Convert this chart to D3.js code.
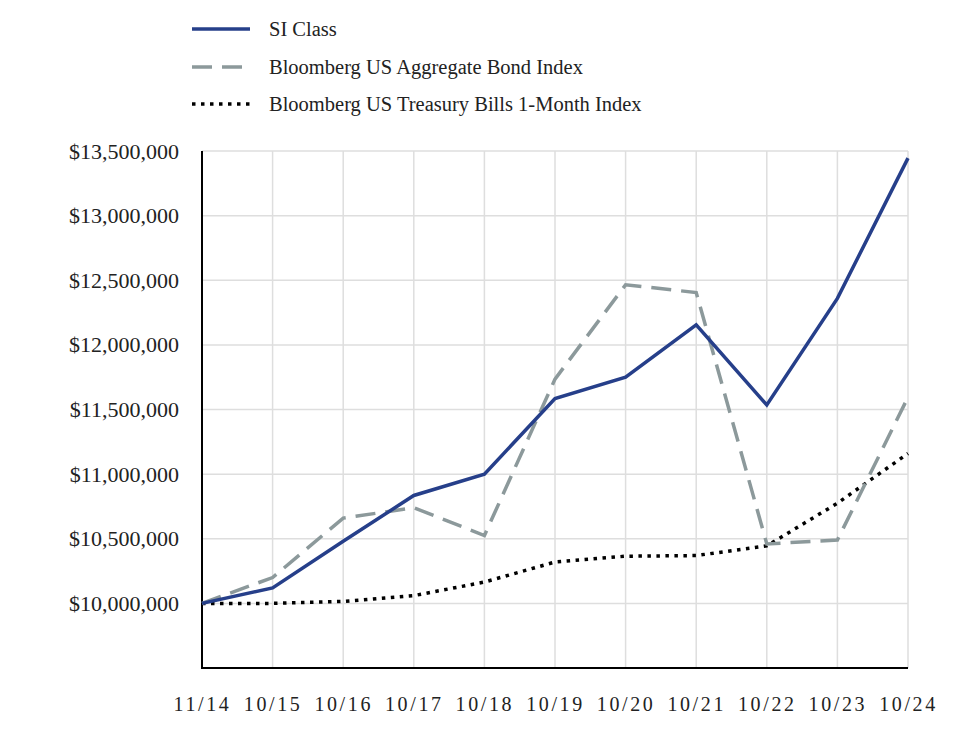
<!DOCTYPE html>
<html><head><meta charset="utf-8">
<script src="https://cdn.jsdelivr.net/npm/d3@7/dist/d3.min.js"></script>
<style>body{margin:0;background:#fff}svg{display:block}</style>
</head><body>
<svg id="c" width="964" height="740"></svg>
<script>
const categories = ["11/14","10/15","10/16","10/17","10/18","10/19","10/20","10/21","10/22","10/23","10/24"];
const siClass = [10000000,10120000,10480000,10835000,11000000,11585000,11750000,12155000,11535000,12360000,13445000];
const aggBond = [10000000,10200000,10660000,10740000,10525000,11735000,12465000,12405000,10460000,10490000,11595000];
const tBills  = [10000000,10000000,10015000,10060000,10165000,10320000,10365000,10370000,10445000,10775000,11160000];
const yTicks = [10000000,10500000,11000000,11500000,12000000,12500000,13000000,13500000];
const seriesNames = ["SI Class","Bloomberg US Aggregate Bond Index","Bloomberg US Treasury Bills 1-Month Index"];

(function(){
const svg = d3.select("#c");
const mLeft = 202, mRight = 908, mTop = 151, mBottom = 668;
const font = "'Liberation Serif', 'DejaVu Serif', serif";

const x = d3.scalePoint().domain(categories).range([mLeft, mRight]);
const y = d3.scaleLinear().domain([9500000, 13500000]).range([mBottom, mTop]);

// grid
svg.append("g").selectAll("line").data(yTicks).join("line")
  .attr("x1", mLeft).attr("x2", mRight)
  .attr("y1", d => y(d)).attr("y2", d => y(d))
  .attr("stroke", "#dedede").attr("stroke-width", 1.5);
svg.append("g").selectAll("line").data(categories.slice(1)).join("line")
  .attr("x1", d => x(d)).attr("x2", d => x(d))
  .attr("y1", mTop).attr("y2", mBottom)
  .attr("stroke", "#dedede").attr("stroke-width", 1.5);

// axes
const fmt = d => "$" + d3.format(",")(d);
const ya = svg.append("g").attr("transform", `translate(${mLeft},0)`)
  .call(d3.axisLeft(y).tickValues(yTicks).tickFormat(fmt).tickSize(0).tickPadding(23));
ya.select(".domain").attr("stroke", "#000").attr("stroke-width", 2).attr("d", `M0,${mTop}V${mBottom}`);
ya.selectAll("text").attr("font-family", font).attr("font-size", 22).attr("fill", "#222");

const xa = svg.append("g").attr("transform", `translate(0,${mBottom})`)
  .call(d3.axisBottom(x).tickSize(0).tickPadding(29));
xa.select(".domain").attr("stroke", "#000").attr("stroke-width", 2).attr("d", `M${mLeft-1},0H${mRight}`);
xa.selectAll("text").attr("font-family", font).attr("font-size", 20)
  .attr("letter-spacing", "2.6px").attr("fill", "#222").attr("dy", "0.71em");

const line = d3.line().x((d, i) => x(categories[i])).y(d => y(d));

const styles = [
  {data: siClass, stroke: "#263f8a", width: 3.5, dash: null},
  {data: aggBond, stroke: "#8c999b", width: 3.5, dash: "20,10"},
  {data: tBills, stroke: "#000", width: 3.5, dash: "3.5,5.5"}
];
[2,1,0].forEach(k => {
  const s = styles[k];
  svg.append("path").datum(s.data).attr("d", line)
    .attr("fill", "none").attr("stroke", s.stroke).attr("stroke-width", s.width)
    .attr("stroke-dasharray", s.dash).attr("stroke-linejoin", "miter");
});

// legend
const ly = [29, 67, 104];
seriesNames.forEach((n, i) => {
  const s = styles[i];
  svg.append("line").attr("x1", 192).attr("x2", 250).attr("y1", ly[i]).attr("y2", ly[i])
    .attr("stroke", s.stroke).attr("stroke-width", s.width).attr("stroke-dasharray", s.dash);
  svg.append("text").attr("x", 269).attr("y", ly[i]).attr("dy", "0.35em")
    .attr("font-family", font).attr("font-size", 20.5).attr("fill", "#222").text(n);
});
})();
</script>
</body></html>
